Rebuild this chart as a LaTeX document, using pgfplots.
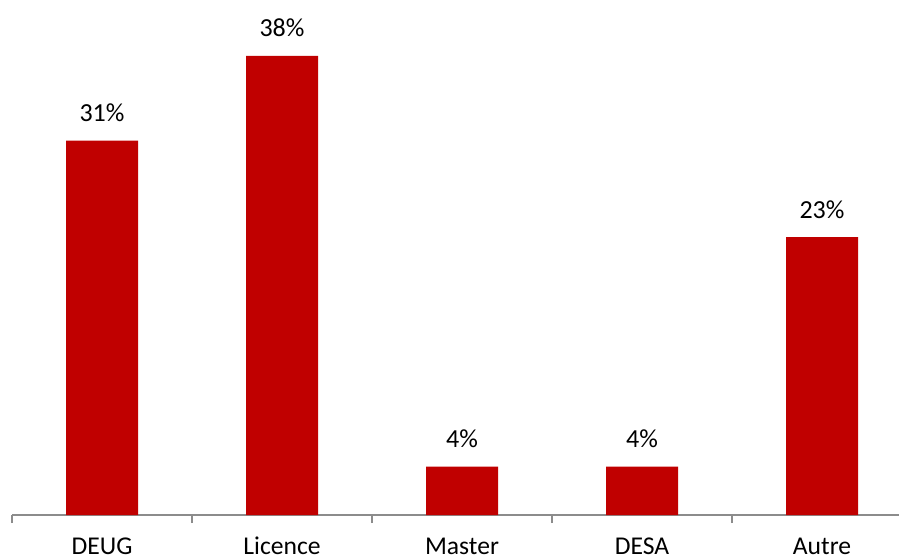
\documentclass[border=0pt]{standalone}
\usepackage{fontspec}
\setmainfont{Carlito}
\usepackage{pgfplots}
\pgfplotsset{compat=1.18}
\definecolor{barred}{HTML}{C00000}
\definecolor{axgray}{HTML}{8C8C8C}
\begin{document}
\begin{tikzpicture}
\begin{axis}[
  scale only axis,
  width=443.5pt, height=257.5pt,
  xmin=-0.5, xmax=4.4278,
  ymin=0, ymax=42.63,
  axis x line*=bottom,
  axis y line=none,
  axis line style={axgray, line width=0.6pt, -},
  xtick={0,1,2,3,4},
  xticklabels={DEUG,Licence,Master,DESA,Autre},
  major tick length=0pt,
  extra x ticks={-0.5,0.5,1.5,2.5,3.5},
  extra x tick labels={},
  extra x tick style={major tick length=4pt, tick align=outside, tick style={axgray, line width=0.6pt}},
  xticklabel style={anchor=base, inner sep=0pt, yshift=-19.5pt, font=\fontsize{12.8}{15}\selectfont},
  /pgf/number format/assume math mode=true,
  nodes near coords={\pgfmathprintnumber{\pgfplotspointmeta}\%},
  every node near coord/.append style={anchor=base, yshift=9.5pt, font=\fontsize{13}{15}\selectfont, text=black},
  clip=false,
]
\addplot[ybar, bar width=36pt, fill=barred, draw=none] coordinates {(0,31) (1,38) (2,4) (3,4) (4,23)};
\end{axis}
\pgfresetboundingbox
\path (current axis.south west) ++(-6pt,-22pt) coordinate (bbsw);
\path[use as bounding box] (bbsw) rectangle (current axis.north east);
\end{tikzpicture}
\end{document}
